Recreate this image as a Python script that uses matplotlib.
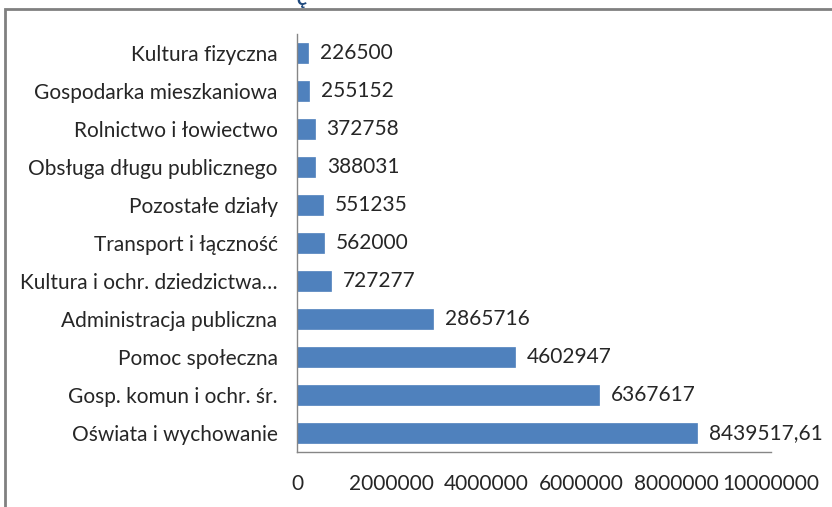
import matplotlib
matplotlib.use("Agg")
import matplotlib.pyplot as plt
from matplotlib.patches import Rectangle

plt.rcParams['font.family'] = ['Lato', 'DejaVu Sans']

# categories from bottom to top of the chart
categories = ["Oświata i wychowanie", "Gosp. komun i ochr. śr.", "Pomoc społeczna",
              "Administracja publiczna", "Kultura i ochr. dziedzictwa…",
              "Transport i łączność", "Pozostałe działy", "Obsługa długu publicznego",
              "Rolnictwo i łowiectwo", "Gospodarka mieszkaniowa", "Kultura fizyczna"]
values = [8439517.61, 6367617, 4602947, 2865716, 727277,
          562000, 551235, 388031, 372758, 255152, 226500]
value_labels = ["8439517,61", "6367617", "4602947", "2865716", "727277",
                "562000", "551235", "388031", "372758", "255152", "226500"]
x_ticks = [0, 2000000, 4000000, 6000000, 8000000, 10000000]

fs = 15
fig = plt.figure(figsize=(8.32, 5.07), dpi=100)
ax = fig.add_axes([297 / 832, 1 - 452 / 507, (771 - 297) / 832, (452 - 34) / 507])

pos = list(range(len(categories)))
ax.barh(pos, values, height=0.55, color="#4F81BD", edgecolor="#4F81BD", linewidth=0.5)

for p, v, lab in zip(pos, values, value_labels):
    ax.annotate(lab, (v, p), xytext=(8.5, 0), textcoords="offset points",
                va="center", ha="left", fontsize=fs, color="#262626")

ax.set_xlim(0, 10000000)
ax.set_ylim(-0.5, len(categories) - 0.5)
ax.set_yticks(pos)
ax.set_yticklabels(categories, fontsize=fs, color="#262626")
ax.set_xticks(x_ticks)
ax.set_xticklabels([str(t) for t in x_ticks], fontsize=fs, color="#262626")
ax.tick_params(axis="y", length=0, pad=14)
ax.tick_params(axis="x", length=0, pad=16)

for s in ["top", "right"]:
    ax.spines[s].set_visible(False)
for s in ["left", "bottom"]:
    ax.spines[s].set_color("#868686")
    ax.spines[s].set_linewidth(1)

# outer chart frame (cropped at the right and bottom)
fig.patches.append(Rectangle((5 / 832, -0.1), 1.2, 1 - 9 / 507 + 0.1,
                             transform=fig.transFigure, fill=False,
                             edgecolor="#808080", linewidth=2))
# tail of the cut off title
fig.text(302 / 832, 1.0, "ę", color="#1F497D", fontsize=14, fontweight="bold",
         ha="center", va="center")

fig.savefig("out.png", dpi=100)
